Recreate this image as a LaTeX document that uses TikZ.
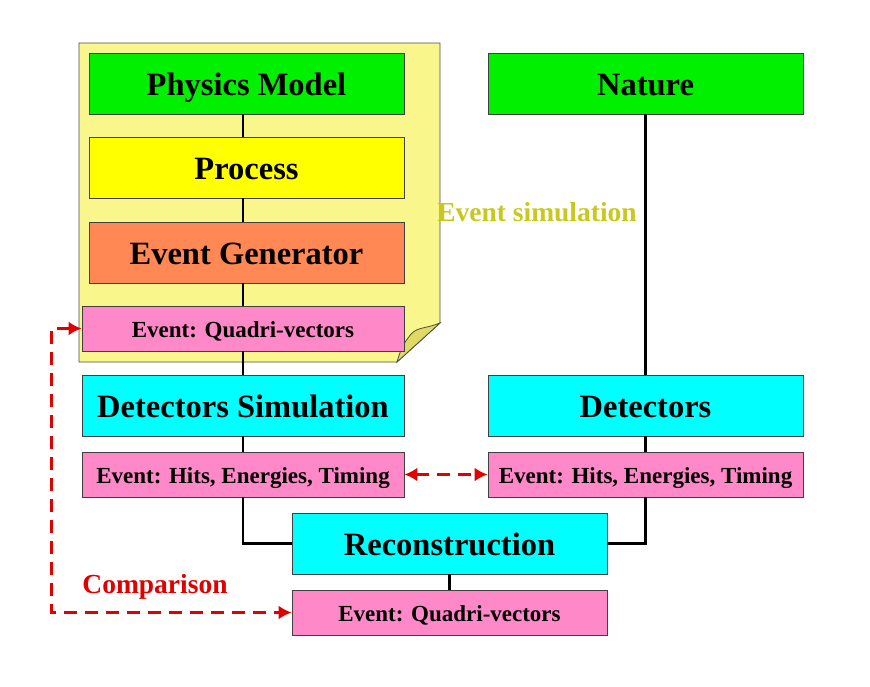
\documentclass[tikz,border=0pt]{standalone}
\usepackage{fontspec}
\setmainfont{Liberation Serif}
\usetikzlibrary{arrows.meta}
\definecolor{notey}{RGB}{249,246,140}
\definecolor{foldy}{RGB}{222,218,100}
\definecolor{pgreen}{RGB}{0,240,0}
\definecolor{pyellow}{RGB}{255,255,0}
\definecolor{porange}{RGB}{255,136,84}
\definecolor{ppink}{RGB}{255,136,200}
\definecolor{pcyan}{RGB}{0,255,255}
\definecolor{pred}{RGB}{225,0,0}
\definecolor{polive}{RGB}{200,200,30}
\tikzset{box/.style={draw=black!75,line width=0.8pt,minimum width=315pt,minimum height=61pt,inner sep=0pt,text height=29pt,text depth=4.5pt,font=\bfseries\fontsize{32.5}{36}\selectfont}}
\tikzset{evbox/.style={box,fill=ppink,minimum height=45pt,text height=20.5pt,text depth=3.5pt,font=\bfseries\fontsize{23}{26}\selectfont}}
\tikzset{link/.style={line width=2.5pt}}
\tikzset{cmp/.style={pred,line width=2.5pt,dash pattern=on 13pt off 8pt,{Latex[length=13pt,width=14pt]}-{Latex[length=13pt,width=14pt]}}}

\begin{document}
\begin{tikzpicture}[x=1pt,y=-1pt]
\useasboundingbox (0,0) rectangle (870,686);
% event simulation note
\filldraw[fill=notey,draw=black!70,line width=0.8pt] (79,43) -- (440,43) -- (440,323) -- (397,362) -- (79,362) -- cycle;
\filldraw[fill=foldy,draw=black!70,line width=0.8pt] (440,323) .. controls (422,330) and (416,326) .. (408,338) .. controls (402,346) and (400,352) .. (397,362) -- cycle;
\node[text=polive,font=\bfseries\fontsize{27.5}{30}\selectfont,name=es] at (537,212) {Event simulation};
% simulation chain
\node[box,fill=pgreen,name=pm] at (246.5,83.5) {Physics Model};
\node[box,fill=pyellow,name=pr] at (246.5,167.5) {Process};
\node[box,fill=porange,name=eg] at (246.5,252.5) {Event Generator};
\node[evbox,minimum width=322pt,name=eq] at (243,328.5) {Event: Quadri-vectors};
\node[box,fill=pcyan,minimum width=322pt,name=ds] at (243,405.5) {Detectors Simulation};
\node[evbox,minimum width=322pt,name=hl] at (243,474.5) {Event: Hits, Energies, Timing};
% real chain
\node[box,fill=pgreen,name=na] at (645.5,83.5) {Nature};
\node[box,fill=pcyan,name=de] at (645.5,405.5) {Detectors};
\node[evbox,name=hr] at (645.5,474.5) {Event: Hits, Energies, Timing};
\node[box,fill=pcyan,name=re] at (449.5,543.5) {Reconstruction};
\node[evbox,name=eb] at (449.5,612.5) {Event: Quadri-vectors};
\node[text=pred,font=\bfseries\fontsize{27.5}{30}\selectfont,name=cp] at (155,587) {Comparison};
\foreach \a/\b in {pm/pr,pr/eg,eg/eq,eq/ds,ds/hl}
  \draw[link] (\a.south -| hl) -- (\b.north -| hl);
\draw[link] (na) -- (de);
\draw[link] (de) -- (hr);
\draw[link] (hl.south) |- (re.west);
\draw[link] (hr.south) |- (re.east);
\draw[link] (re) -- (eb);
\draw[cmp] (hl) -- (hr);
\draw[cmp] (eq.west) -- ++(-30,0) |- (eb.west);
\end{tikzpicture}
\end{document}
